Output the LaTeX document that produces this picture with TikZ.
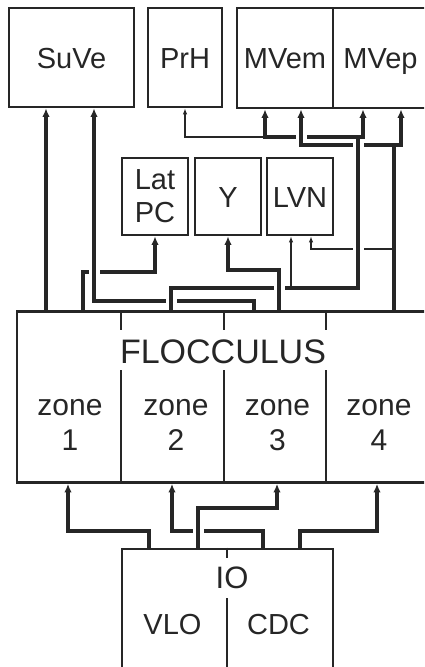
\documentclass[tikz,border=0pt]{standalone}
\usepackage{fontspec}
\setmainfont{Liberation Sans}
\usepackage{tikz}
\usetikzlibrary{arrows.meta, calc}
\definecolor{ink}{HTML}{262626}

% break a horizontal wire where a vertical one passes over it
\newcommand\hop[1]{%
  \fill[white] ($(#1)+(-5.5,-3.5)$) rectangle ($(#1)+(5.5,3.5)$);
  \draw[wire] ($(#1)+(0,-4.5)$) -- ($(#1)+(0,4.5)$);}

\begin{document}
\begin{tikzpicture}[x=1pt, y=-1pt, color=ink,
  frame/.style={draw, line width=2.7pt, inner sep=0pt},
  lbl/.style={font=\fontsize{29}{33}\selectfont, inner sep=0pt},
  captext/.style={text height=21pt, text depth=0pt},
  wire/.style={line width=3.6pt},
  fat/.style={wire, -{Latex[length=8.5pt,width=7.5pt]}},
  fatboth/.style={wire, {Latex[length=8.5pt,width=7.5pt]}-{Latex[length=8.5pt,width=7.5pt]}},
  fine/.style={line width=1.3pt, -{Latex[length=6pt,width=4.5pt]}},
  divider/.style={line width=2.6pt}]
  \clip (0,0) rectangle (424,667);

  % target nuclei
  \node[frame, lbl, captext, minimum width=125pt, minimum height=99pt] (suve) at (71.5,57.5) {SuVe};
  \node[frame, lbl, captext, minimum width=74pt, minimum height=99pt] (prh) at (185,57.5) {PrH};
  \node[frame, lbl, captext, minimum width=96pt, minimum height=100pt] (mvem) at (285,58) {MVem};
  \node[frame, lbl, captext, minimum width=95pt, minimum height=100pt] (mvep) at (380.5,58) {MVep};
  \node[frame, lbl, align=center, minimum width=66pt, minimum height=77pt] (latpc) at (155,196.5) {Lat\\PC};
  \node[frame, lbl, captext, minimum width=66pt, minimum height=77pt] (ybox) at (228,196.5) {Y};
  \node[frame, lbl, captext, minimum width=66pt, minimum height=77pt] (lvn) at (300,196.5) {LVN};

  % flocculus
  \node[frame, minimum width=413pt, minimum height=171pt] (floc) at (223.5,397) {};
  \foreach \xx in {121,224,326} {
    \draw[divider] (floc.north -| \xx,0) -- (\xx,330);
    \draw[divider] (\xx,370) -- (floc.south -| \xx,0);
  }
  \node[lbl, font=\fontsize{34}{40}\selectfont, anchor=base] (flocname) at (223,363) {FLOCCULUS};
  \foreach \xx/\nn in {70/1, 176/2, 277.5/3, 379/4} {
    \node[lbl, font=\fontsize{30}{36}\selectfont, anchor=base] (zone\nn) at (\xx,415) {zone};
    \node[lbl, font=\fontsize{30}{36}\selectfont, anchor=base] (num\nn) at (\xx,450) {\nn};
  }

  % inferior olive
  \node[frame, minimum width=211pt, minimum height=141pt] (io) at (227.5,619.5) {};
  \draw[divider] (io.north -| 227,0) -- (227,558);
  \draw[divider] (227,598) -- (io.south -| 227,0);
  \node[lbl, font=\fontsize{31}{36}\selectfont, anchor=base] (ioname) at (232,588) {IO};
  \node[lbl, anchor=base] (vlo) at (172.5,634) {VLO};
  \node[lbl, anchor=base] (cdc) at (278.5,634) {CDC};

  \coordinate (jA) at (265,137);
  \coordinate (jB) at (291,288);
  \coordinate (jC) at (394,249);

  % zone outputs
  \draw[fat] (floc.north -| 46,0) -- (suve.south -| 46,0);
  \draw[fat] (floc.north -| 83,0) |- (155,272) -- (latpc.south);
  \draw[fat] (floc.north -| 254,0) |- (94,301) -- (suve.south -| 94,0);
  \draw[fat] (floc.north -| 279,0) |- (228,270) -- (ybox.south);
  \draw[wire] (floc.north -| 171,0) |- (358,288) -- (358,137);
  \draw[fatboth] (mvem.south -| 265,0) |- (363,137) -- (mvep.south -| 363,0);
  \draw[fine] (jA) -| (prh.south);
  \draw[fine] (jB) -- (lvn.south -| 291,0);
  \draw[wire] (floc.north -| 394,0) -- (394,145);
  \draw[fatboth] (mvem.south -| 301,0) |- (401,145) -- (mvep.south -| 401,0);
  \draw[fine] (jC) -| (lvn.south -| 311,0);

  % climbing fibres
  \draw[fat] (io.north -| 149,0) |- (68,531) -- (floc.south -| 68,0);
  \draw[fat] (io.north -| 198,0) |- (277,508) -- (floc.south -| 277,0);
  \draw[fat] (io.north -| 263,0) |- (172,531) -- (floc.south -| 172,0);
  \draw[fat] (io.north -| 300,0) |- (377,531) -- (floc.south -| 377,0);

  \hop{301,137}
  \hop{358,145}
  \hop{358,249}
  \hop{279,288}
  \hop{171,301}
  \hop{94,272}
  \hop{198,531}
\end{tikzpicture}
\end{document}
